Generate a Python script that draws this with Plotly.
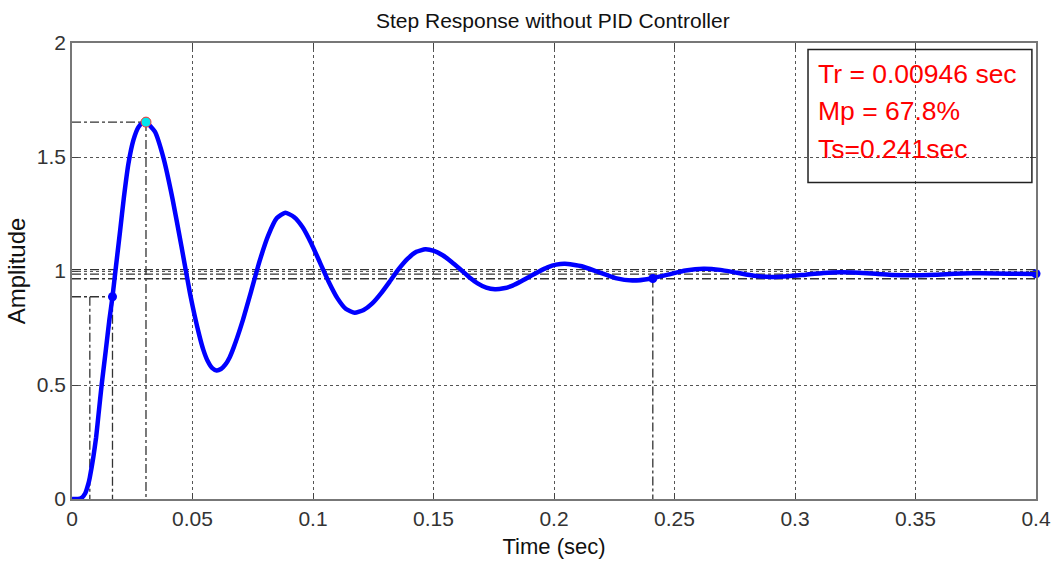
import plotly.graph_objects as go

# ---- data ----
time_s = [0, 0.0025, 0.004, 0.0055, 0.0068, 0.0074, 0.0088, 0.0100, 0.0110, 0.0123,
          0.0140, 0.0155, 0.0168, 0.0179, 0.0200, 0.0215, 0.0234, 0.0255, 0.0275, 0.0290,
          0.0307, 0.0344, 0.0380, 0.0417, 0.0454, 0.0490, 0.0527, 0.0545, 0.0563, 0.0582,
          0.0600, 0.0618, 0.0636, 0.0654, 0.0671, 0.0707, 0.0743, 0.0778, 0.0814, 0.0850,
          0.0885, 0.0921, 0.0957, 0.0993, 0.1029, 0.1065, 0.1101, 0.1137,
          0.1173, 0.1210, 0.1246, 0.1283, 0.1320, 0.1356, 0.1393, 0.1429,
          0.1466, 0.1502, 0.1538, 0.1574, 0.1611, 0.1647, 0.1683, 0.1719,
          0.1755, 0.1791, 0.1828, 0.1864, 0.1900, 0.1936, 0.1973, 0.2009,
          0.2045, 0.2115, 0.2185, 0.2255, 0.2325,
          0.2399, 0.2473, 0.2546, 0.2620, 0.2690, 0.2760, 0.2830, 0.2900, 0.2973, 0.3045,
          0.3118, 0.3190, 0.3263, 0.3335, 0.3408, 0.3480, 0.3553, 0.3625, 0.3698, 0.3770,
          0.3885, 0.4000]
amplitude = [0, 0.0, 0.005, 0.025, 0.067, 0.095, 0.18, 0.27, 0.37, 0.50,
             0.65, 0.785, 0.887, 0.989, 1.18, 1.32, 1.47, 1.575, 1.63, 1.647,
             1.653, 1.611, 1.494, 1.317, 1.109, 0.900, 0.723, 0.654, 0.605, 0.574,
             0.564, 0.570, 0.589, 0.621, 0.665, 0.778, 0.910, 1.042, 1.155, 1.232,
             1.256, 1.237, 1.192, 1.121, 1.037, 0.953, 0.881, 0.833,
             0.817, 0.829, 0.858, 0.903, 0.956, 1.009, 1.054, 1.084,
             1.095, 1.088, 1.069, 1.041, 1.008, 0.974, 0.946, 0.927,
             0.920, 0.924, 0.936, 0.955, 0.976, 0.997, 1.016, 1.028,
             1.032, 1.021, 0.995, 0.969, 0.958,
             0.966, 0.984, 1.002, 1.010, 1.005, 0.992, 0.979, 0.974, 0.977, 0.984,
             0.991, 0.994, 0.992, 0.988, 0.983, 0.981, 0.982, 0.986, 0.989, 0.990,
             0.988, 0.987]

# step characteristics
t_rise_lo, t_rise_hi, y_rise_hi = 0.0074, 0.0168, 0.887
t_peak, y_peak = 0.0307, 1.653
t_settle, y_settle = 0.241, 0.967
t_final, y_final = 0.4, 0.988
y_ss = 0.986
band_hi, band_lo = 1.006, 0.966

x_ticks = [0, 0.05, 0.1, 0.15, 0.2, 0.25, 0.3, 0.35, 0.4]
x_ticktext = ["0", "0.05", "0.1", "0.15", "0.2", "0.25", "0.3", "0.35", "0.4"]
y_ticks = [0, 0.5, 1, 1.5, 2]
y_ticktext = ["0", "0.5", "1", "1.5", "2"]

info_lines = ["Tr = 0.00946 sec", "Mp = 67.8%", "Ts=0.241sec"]

FONT = "Liberation Sans, Arial, sans-serif"
CHAR_COL = "#333333"
DD = dict(color=CHAR_COL, width=1.3, dash="dashdot")

fig = go.Figure()

# characteristic lines (dash-dot)
fig.add_trace(go.Scatter(x=[0, 0.4], y=[band_hi, band_hi], mode="lines", line=DD, hoverinfo="skip"))
fig.add_trace(go.Scatter(x=[0, 0.4], y=[y_ss, y_ss], mode="lines", line=DD, hoverinfo="skip"))
fig.add_trace(go.Scatter(x=[0, 0.4], y=[band_lo, band_lo], mode="lines", line=DD, hoverinfo="skip"))
fig.add_trace(go.Scatter(x=[0, t_peak, None, t_peak, t_peak], y=[y_peak, y_peak, None, y_peak, 0],
                         mode="lines", line=DD, hoverinfo="skip"))
fig.add_trace(go.Scatter(x=[0, t_rise_hi, None, t_rise_hi, t_rise_hi, None, t_rise_lo, t_rise_lo],
                         y=[y_rise_hi, y_rise_hi, None, y_rise_hi, 0, None, y_rise_hi, 0],
                         mode="lines", line=DD, hoverinfo="skip"))
fig.add_trace(go.Scatter(x=[t_settle, t_settle], y=[y_settle, 0], mode="lines", line=DD, hoverinfo="skip"))

# response curve
fig.add_trace(go.Scatter(x=time_s, y=amplitude, mode="lines",
                         line=dict(color="#0000ff", width=4.5, shape="spline", smoothing=0.5),
                         cliponaxis=False))

# markers
fig.add_trace(go.Scatter(x=[t_rise_hi, t_settle, t_final], y=[y_rise_hi, y_settle, y_final],
                         mode="markers", marker=dict(color="#0000ff", size=9), cliponaxis=False))
fig.add_trace(go.Scatter(x=[t_peak], y=[y_peak], mode="markers",
                         marker=dict(color="#00e5ee", size=10, line=dict(color="#ff3030", width=1)),
                         cliponaxis=False))

# info box
fig.add_shape(type="rect", xref="x", yref="y", x0=0.3054, x1=0.3983, y0=1.388, y1=1.971,
              line=dict(color="#222222", width=1.5), fillcolor="rgba(0,0,0,0)")
for txt, yy in zip(info_lines, [1.864, 1.702, 1.537]):
    fig.add_annotation(x=0.3088, y=yy, xref="x", yref="y", text=txt, showarrow=False,
                       xanchor="left", yanchor="middle",
                       font=dict(family=FONT, size=26.5, color="#ff0000"))

axis_common = dict(showline=True, linecolor="#777777", linewidth=1.5, mirror="ticks",
                   ticks="inside", ticklen=6, tickcolor="#444444",
                   showgrid=True, gridcolor="#555555", gridwidth=1, griddash="dot",
                   zeroline=False, automargin=False,
                   tickfont=dict(family=FONT, size=21, color="#333333"))

fig.update_layout(
    width=1057, height=566,
    margin=dict(l=72, r=21, t=43, b=67),
    plot_bgcolor="white", paper_bgcolor="white",
    showlegend=False,
    title=dict(text="Step Response without PID Controller", x=0.523, xanchor="center",
               y=0.963, yanchor="middle", yref="container",
               font=dict(family=FONT, size=21, color="#111111")),
    xaxis=dict(range=[0, 0.4], tickvals=x_ticks, ticktext=x_ticktext,
               title=dict(text="Time (sec)", standoff=10,
                          font=dict(family=FONT, size=22, color="#111111")),
               **axis_common),
    yaxis=dict(range=[0, 2], tickvals=y_ticks, ticktext=y_ticktext,
               title=dict(text="Amplitude", standoff=4,
                          font=dict(family=FONT, size=24, color="#111111")),
               **axis_common),
)

fig.write_html("out.html")
